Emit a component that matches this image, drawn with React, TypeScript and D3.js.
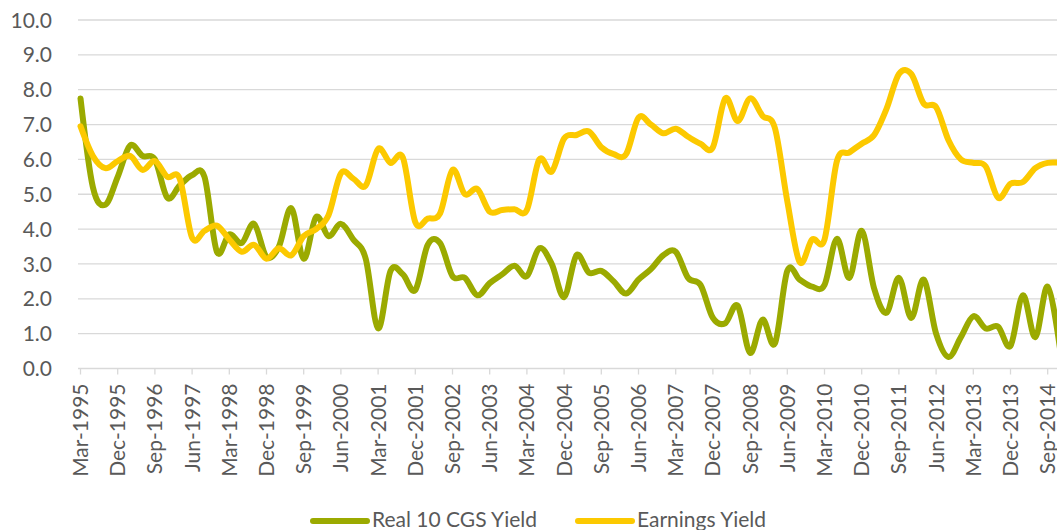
import React from "react";
import * as d3 from "d3";

// quarterly observations, Mar-1995 .. Dec-2014
const realCgsYield = [
  7.75, 5.2, 4.7, 5.5, 6.4, 6.1, 6.0, 4.9, 5.25, 5.55,
  5.5, 3.35, 3.85, 3.6, 4.15, 3.2, 3.5, 4.6, 3.15, 4.35,
  3.8, 4.15, 3.7, 3.15, 1.15, 2.8, 2.7, 2.25, 3.55, 3.6,
  2.65, 2.6, 2.1, 2.45, 2.7, 2.95, 2.65, 3.45, 3.0, 2.05,
  3.25, 2.75, 2.8, 2.5, 2.15, 2.55, 2.85, 3.25, 3.35, 2.6,
  2.4, 1.45, 1.3, 1.8, 0.45, 1.4, 0.72, 2.8, 2.55, 2.35,
  2.4, 3.72, 2.6, 3.95, 2.3, 1.6, 2.6, 1.45, 2.55, 1.0,
  0.33, 0.9, 1.5, 1.15, 1.2, 0.65, 2.1, 0.9, 2.35, 0.55,
];

const earningsYield = [
  6.95, 6.1, 5.75, 5.95, 6.1, 5.7, 5.95, 5.5, 5.45, 3.75,
  3.95, 4.1, 3.7, 3.35, 3.55, 3.15, 3.45, 3.25, 3.8, 4.0,
  4.4, 5.6, 5.45, 5.25, 6.3, 5.9, 6.05, 4.2, 4.3, 4.45,
  5.7, 5.0, 5.15, 4.5, 4.55, 4.57, 4.55, 6.0, 5.65, 6.6,
  6.7, 6.8, 6.35, 6.15, 6.15, 7.2, 7.0, 6.75, 6.88, 6.65,
  6.45, 6.35, 7.75, 7.1, 7.75, 7.25, 6.9, 4.8, 3.05, 3.7,
  3.7, 5.95, 6.2, 6.45, 6.7, 7.45, 8.45, 8.45, 7.6, 7.5,
  6.55, 6.0, 5.9, 5.8, 4.9, 5.3, 5.35, 5.75, 5.9, 5.9,
];

// every third quarter is labelled
const tickLabels = [
  "Mar-1995", "Dec-1995", "Sep-1996", "Jun-1997", "Mar-1998", "Dec-1998",
  "Sep-1999", "Jun-2000", "Mar-2001", "Dec-2001", "Sep-2002", "Jun-2003",
  "Mar-2004", "Dec-2004", "Sep-2005", "Jun-2006", "Mar-2007", "Dec-2007",
  "Sep-2008", "Jun-2009", "Mar-2010", "Dec-2010", "Sep-2011", "Jun-2012",
  "Mar-2013", "Dec-2013", "Sep-2014",
];
const labelStep = 3;

const yTicks = [0, 1, 2, 3, 4, 5, 6, 7, 8, 9, 10];

const seriesNames = ["Real 10 CGS Yield", "Earnings Yield"];
const seriesColors = ["#9BAA00", "#FCC900"];

const W = 1057;
const H = 530;
const FONT = "Lato, 'Open Sans', sans-serif";
const TEXT = "#595959";
const GRID = "#D9D9D9";

export default function App() {
  const n = realCgsYield.length;
  const x = d3.scaleLinear().domain([0, n - 1]).range([80.5, 80.5 + (n - 1) * 12.4]);
  const y = d3.scaleLinear().domain([0, 10]).range([368.5, 20]);

  const line = d3
    .line<number>()
    .x((d, i) => x(i))
    .y((d) => y(d))
    .curve(d3.curveCardinal.tension(0));

  const all = [realCgsYield, earningsYield];
  const tickIdx = tickLabels.map((_, k) => k * labelStep);

  return (
    <svg
      width={W}
      height={H}
      style={{ position: "absolute", left: 0, top: 0, background: "#fff" }}
      fontFamily={FONT}
    >
      {yTicks.map((t) => (
        <g key={t}>
          <line x1={78} x2={W} y1={y(t)} y2={y(t)} stroke={GRID} strokeWidth={1.3} />
          <text x={52} y={y(t)} dy="0.36em" textAnchor="end" fontSize={21} fill={TEXT}>
            {t.toFixed(1)}
          </text>
        </g>
      ))}

      {tickIdx.map((i, k) => (
        <g key={k}>
          <line x1={x(i)} x2={x(i)} y1={y(0)} y2={y(0) + 6} stroke={GRID} strokeWidth={1.3} />
          <text
            transform={`translate(${x(i)},${y(0) + 15}) rotate(-90)`}
            dy="0.36em"
            textAnchor="end"
            fontSize={21}
            fill={TEXT}
          >
            {tickLabels[k]}
          </text>
        </g>
      ))}

      {all.map((s, k) => (
        <path
          key={k}
          d={line(s) || ""}
          fill="none"
          stroke={seriesColors[k]}
          strokeWidth={6}
          strokeLinejoin="round"
          strokeLinecap="round"
        />
      ))}

      {seriesNames.map((name, k) => {
        const lx = k === 0 ? 313 : 578;
        return (
          <g key={name}>
            <line x1={lx} x2={lx + 54} y1={521} y2={521} stroke={seriesColors[k]} strokeWidth={6} strokeLinecap="round" />
            <text x={lx + 59} y={527} fontSize={21} fill={TEXT}>
              {name}
            </text>
          </g>
        );
      })}
    </svg>
  );
}
